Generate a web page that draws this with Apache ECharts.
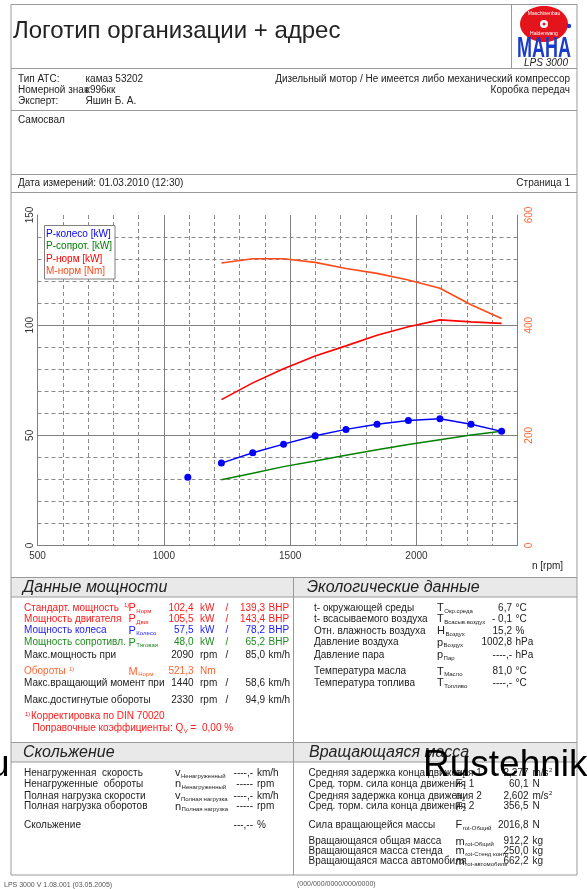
<!DOCTYPE html>
<html><head><meta charset="utf-8">
<script src="https://cdn.jsdelivr.net/npm/echarts@6/dist/echarts.min.js"></script>
<style>html,body{margin:0;padding:0;background:#fff}#c{width:587px;height:889px}</style>
</head><body><div id="c"></div>
<script>
// ---- chart data ----
const strayRpm = [1095];
const strayWheel = [31.0];
const rpm = [1228, 1352, 1474, 1599, 1721, 1844, 1968, 2093, 2216, 2337];
const pWheel = [37.4, 42.1, 46.0, 49.8, 52.7, 55.0, 56.7, 57.5, 55.0, 51.8];
const pDrag = [29.8, 32.8, 35.8, 38.4, 41.0, 43.5, 45.8, 48.0, 50.1, 51.8];
const pNorm = [66.2, 73.8, 80.2, 86.0, 90.6, 95.4, 99.3, 102.4, 101.5, 100.8];
const mNorm = [513, 520.5, 520.5, 514, 503, 494, 482, 467, 437, 412];
const xLabels = [500, 1000, 1500, 2000];
const seriesNames = ['P-колесо [kW]', 'P-сопрот. [kW]', 'P-норм [kW]', 'M-норм [Nm]'];
const seriesColors = ['#0000ff', '#008000', '#ff0000', '#ff4a1a'];

const FF = '"Liberation Sans", Arial, sans-serif';
const chart = echarts.init(document.getElementById('c'), null, {renderer: 'canvas'});

const ctx = document.createElement('canvas').getContext('2d');
function tw(t, size, style) { ctx.font = (style || '') + ' ' + size + 'px ' + FF; return ctx.measureText(t).width; }

const G = [];
function T(x, y, text, o) {
  o = o || {};
  G.push({type: 'text', x: x, y: y, z: o.z || 20, scaleX: o.scaleX || 1, rotation: o.rotation || 0,
    style: {text: text, fill: o.color || '#222', fontSize: o.size || 10, fontFamily: FF,
      fontStyle: o.italic ? 'italic' : 'normal', fontWeight: o.bold ? 'bold' : 'normal',
      align: o.align || 'left', verticalAlign: o.valign || 'middle'}});
}
function L(x1, y1, x2, y2, c, w) {
  G.push({type: 'line', z: 5, shape: {x1: x1, y1: y1, x2: x2, y2: y2}, style: {stroke: c || '#9a9a9a', lineWidth: w || 1}});
}
function R(x, y, w, h, fill, stroke, z) {
  G.push({type: 'rect', z: z || 4, shape: {x: x, y: y, width: w, height: h}, style: {fill: fill || 'none', stroke: stroke || 'none', lineWidth: 1}});
}
function SYM(x, y, main, sub, color, sup) {
  if (sup) { T(x - 4.5, y - 3, sup, {size: 6, color: color}); }
  T(x, y, main, {size: 11, color: color});
  if (sub) T(x + tw(main, 11) + 0.5, y + 3, sub, {size: 6, color: color});
}

// ---- frame ----
const LX = 11, RX = 577;
R(LX, 4.5, RX - LX, 870.5, 'none', '#9a9a9a', 6);
L(511.5, 4.5, 511.5, 68.5);
L(LX, 68.5, RX, 68.5);
L(LX, 110.5, RX, 110.5);
L(LX, 174.5, RX, 174.5);
L(LX, 192.5, RX, 192.5);
R(LX, 577.5, RX - LX, 19.5, '#e9e9e9', 'none', 3);
L(LX, 577.5, RX, 577.5);
L(LX, 597, RX, 597);
L(293.5, 577.5, 293.5, 875);
R(LX, 742.5, RX - LX, 19.5, '#e9e9e9', 'none', 3);
L(LX, 742.5, RX, 742.5);
L(LX, 762, RX, 762);

// ---- header ----
T(13, 31, 'Логотип организации + адрес', {size: 24});
G.push({type: 'ellipse', z: 8, shape: {cx: 544, cy: 24, rx: 24, ry: 18}, style: {fill: '#e3141b'}});
G.push({type: 'circle', z: 9, shape: {cx: 569, cy: 26, r: 2.2}, style: {fill: '#1a3cc8'}});
G.push({type: 'circle', z: 9, shape: {cx: 544, cy: 24, r: 4}, style: {fill: '#fff'}});
G.push({type: 'circle', z: 9, shape: {cx: 544, cy: 24, r: 1.5}, style: {fill: '#e3141b'}});
T(544, 14, 'Maschinenbau', {size: 5, color: '#fff', align: 'center', z: 21});
T(544, 34, 'Haldenwang', {size: 5, color: '#fff', align: 'center', z: 21});
T(544, 49, 'MAHA', {size: 30, bold: true, color: '#1a3cc8', align: 'center', scaleX: 0.6, z: 22});
T(546, 63, 'LPS 3000', {size: 10, italic: true, color: '#222', align: 'center'});

T(18, 79, 'Тип АТС:'); T(85.5, 79, 'камаз 53202');
T(18, 90.2, 'Номерной знак'); T(85.5, 90.2, 'к996кк');
T(18, 101.5, 'Эксперт:'); T(85.5, 101.5, 'Яшин Б. А.');
T(570, 79, 'Дизельный мотор / Не имеется либо механический компрессор', {align: 'right'});
T(570, 90.2, 'Коробка передач', {align: 'right'});
T(18, 120, 'Самосвал');
T(18, 183.3, 'Дата измерений: 01.03.2010 (12:30)');
T(570, 183.3, 'Страница 1', {align: 'right'});

// ---- chart extras ----
T(532, 566, 'n [rpm]', {size: 10});
R(44.5, 225.5, 70.5, 53.5, '#fff', '#808080', 3);

// ---- power data section ----
const RED = '#ff1a1a', BLUE = '#1a1aff', GREEN = '#1e8c1e', ORANGE = '#ff6633', DARK = '#222';
T(23, 587.5, 'Данные мощности', {size: 16, italic: true});
function prow(y, label, color, sym, sub, sup, v1, u1, v2, u2) {
  T(24, y, label, {color: color});
  if (sym) SYM(128.5, y, sym, sub, color, sup);
  T(193.5, y, v1, {color: color, align: 'right'});
  T(200, y, u1, {color: color});
  if (v2) {
    T(227, y, '/', {color: color, align: 'center'});
    T(265, y, v2, {color: color, align: 'right'});
    T(268.5, y, u2, {color: color});
  }
}
prow(608, 'Стандарт. мощность', RED, 'P', 'Норм', '1)', '102,4', 'kW', '139,3', 'BHP');
prow(619, 'Мощность двигателя', RED, 'P', 'Двиг', null, '105,5', 'kW', '143,4', 'BHP');
prow(630.5, 'Мощность колеса', BLUE, 'P', 'Колесо', null, '57,5', 'kW', '78,2', 'BHP');
prow(642.5, 'Мощность сопротивл.', GREEN, 'P', 'Тяговая', null, '48,0', 'kW', '65,2', 'BHP');
prow(655, 'Макс.мощность при', DARK, null, null, null, '2090', 'rpm', '85,0', 'km/h');
prow(671.7, 'Обороты', ORANGE, 'M', 'Норм', null, '521,3', 'Nm', null, null);
T(69, 669, '1)', {size: 6, color: ORANGE});
prow(683.3, 'Макс.вращающий момент при', DARK, null, null, null, '1440', 'rpm', '58,6', 'km/h');
prow(700, 'Макс.достигнутые обороты', DARK, null, null, null, '2330', 'rpm', '94,9', 'km/h');
T(25, 714, '1)', {size: 6, color: RED});
T(31, 716.7, 'Корректировка по DIN 70020', {color: RED});
const qText = 'Поправочные коэффициенты: Q';
const qEnd = 32.5 + tw(qText, 10);
T(32.5, 728.3, qText, {color: RED});
T(qEnd + 0.5, 731, 'V', {color: RED, size: 6});
T(qEnd + 7, 728.3, '=', {color: RED});
T(Math.max(202, qEnd + 18), 728.3, '0,00 %', {color: RED});

// ---- ecology section ----
T(307, 587.5, 'Экологические данные', {size: 16, italic: true});
function erow(y, label, sym, sub, val, unit) {
  T(314, y, label);
  SYM(437, y, sym, sub, DARK);
  T(512, y, val, {align: 'right'});
  T(515.5, y, unit);
}
erow(608.3, 't- окружающей среды', 'T', 'Окр.среда', '6,7', '°C');
erow(619.3, 't- всасываемого воздуха', 'T', 'Всасыв.воздух', '- 0,1', '°C');
erow(631, 'Отн. влажность воздуха', 'H', 'Воздух', '15,2', '%');
erow(642.7, 'Давление воздуха', 'p', 'Воздух', '1002,8', 'hPa');
erow(655, 'Давление пара', 'p', 'Пар', '----,-', 'hPa');
erow(671.7, 'Температура масла', 'T', 'Масло', '81,0', '°C');
erow(683.3, 'Температура топлива', 'T', 'Топливо', '----,-', '°C');

// ---- slip section ----
T(23, 752.5, 'Скольжение', {size: 16, italic: true});
function srow(y, label, sym, sub, val, unit) {
  T(24, y, label);
  if (sym) SYM(175, y, sym, sub, DARK);
  T(253, y, val, {align: 'right'});
  T(257, y, unit);
}
srow(773.3, 'Ненагруженная  скорость', 'v', 'Ненагруженный', '----,-', 'km/h');
srow(784.3, 'Ненагруженные  обороты', 'n', 'Ненагруженный', '-----', 'rpm');
srow(796, 'Полная нагрузка скорости', 'v', 'Полная нагрузка', '----,-', 'km/h');
srow(806.7, 'Полная нагрузка оборотов', 'n', 'Полная нагрузка', '-----', 'rpm');
srow(825, 'Скольжение', null, null, '---,--', '%');

// ---- rotating mass section ----
T(309, 752.5, 'Вращающаяся масса', {size: 16, italic: true});
function mrow(y, label, sym, sub, val, unit, sup) {
  T(308.5, y, label);
  SYM(455.5, y, sym, sub, DARK);
  T(528.5, y, val, {align: 'right'});
  T(532.5, y, unit);
  if (sup) T(532.5 + tw(unit, 10) + 0.5, y - 3, sup, {size: 6});
}
mrow(773.3, 'Средняя задержка конца движения 1', 'a', '1', '2,277', 'm/s', '2');
mrow(784.3, 'Сред. торм. сила конца движения 1', 'F', '1', '60,1', 'N');
mrow(796, 'Средняя задержка конца движения 2', 'a', '2', '2,602', 'm/s', '2');
mrow(806.7, 'Сред. торм. сила конца движения 2', 'F', '2', '356,5', 'N');
mrow(825, 'Сила вращающейся массы', 'F', 'rot-Общий', '2016,8', 'N');
mrow(841.7, 'Вращающаяся общая масса', 'm', 'rot-Общий', '912,2', 'kg');
mrow(851, 'Вращающаяся масса стенда', 'm', 'rot-Стенд контр', '250,0', 'kg');
mrow(861.7, 'Вращающаяся масса автомобиля', 'm', 'rot-автомобиль', '662,2', 'kg');

// ---- footer + watermark ----
T(4, 885, 'LPS 3000 V 1.08.001 (03.05.2005)', {size: 7, color: '#555'});
T(297, 884, '(000/000/0000/000/0000)', {size: 7, color: '#555'});
T(423, 766, 'Rustehnik', {size: 37, color: '#000', z: 40});
T(-11, 766, 'u', {size: 37, color: '#000', z: 40});

// ---- series data ----
const wheelData = strayRpm.map((r, i) => [r, strayWheel[i]]);
wheelData.push([strayRpm[strayRpm.length - 1], '-']);
rpm.forEach((r, i) => wheelData.push([r, pWheel[i]]));
const pair = arr => rpm.map((r, i) => [r, arr[i]]);

const option = {
  animation: false,
  backgroundColor: '#fff',
  textStyle: {fontFamily: FF},
  grid: {left: 37.5, right: 69.5, top: 215, bottom: 343.5, containLabel: false},
  legend: {
    orient: 'vertical', left: 41, top: 228, padding: 0, itemGap: 0.5, itemWidth: 0, itemHeight: 0,
    icon: 'none', selectedMode: false, z: 10,
    textStyle: {fontSize: 10, fontFamily: FF, lineHeight: 12},
    data: seriesNames.map((n, i) => ({name: n, icon: 'none', textStyle: {color: seriesColors[i]}}))
  },
  xAxis: [
    {type: 'value', min: 500, max: 2400, interval: 100,
     axisLine: {show: true, lineStyle: {color: '#808080', width: 1}}, axisTick: {show: false},
     axisLabel: {color: '#333', fontSize: 10, margin: 6,
       formatter: v => xLabels.indexOf(v) >= 0 ? String(v) : ''},
     splitLine: {show: true, lineStyle: {color: '#8a8a8a', type: [4, 3], width: 1}}},
    {type: 'value', min: 500, max: 2400, interval: 500, position: 'bottom',
     axisLine: {show: false}, axisTick: {show: false}, axisLabel: {show: false},
     splitLine: {show: true, lineStyle: {color: '#808080', width: 1}}}
  ],
  yAxis: [
    {type: 'value', min: 0, max: 150, interval: 50, position: 'left',
     axisLine: {show: true, lineStyle: {color: '#808080'}}, axisTick: {show: false},
     axisLabel: {rotate: 90, color: '#333', fontSize: 10, margin: 2},
     splitLine: {show: true, showMaxLine: false, lineStyle: {color: '#808080', width: 1}},
     minorTick: {show: false, splitNumber: 5},
     minorSplitLine: {show: true, lineStyle: {color: '#8a8a8a', type: [4, 3], width: 1}}},
    {type: 'value', min: 0, max: 600, interval: 200, position: 'right',
     axisLine: {show: true, lineStyle: {color: '#808080'}}, axisTick: {show: false},
     axisLabel: {rotate: 90, color: '#ff6633', fontSize: 10, margin: 7},
     splitLine: {show: false}}
  ],
  series: [
    {name: seriesNames[1], type: 'line', xAxisIndex: 0, yAxisIndex: 0, data: pair(pDrag),
     showSymbol: false, symbol: 'none', lineStyle: {color: seriesColors[1], width: 1.5}, itemStyle: {color: seriesColors[1]}, z: 3},
    {name: seriesNames[2], type: 'line', xAxisIndex: 0, yAxisIndex: 0, data: pair(pNorm),
     showSymbol: false, symbol: 'none', lineStyle: {color: seriesColors[2], width: 1.6}, itemStyle: {color: seriesColors[2]}, z: 3},
    {name: seriesNames[3], type: 'line', xAxisIndex: 0, yAxisIndex: 1, data: pair(mNorm),
     showSymbol: false, symbol: 'none', lineStyle: {color: seriesColors[3], width: 1.6}, itemStyle: {color: seriesColors[3]}, z: 3},
    {name: seriesNames[0], type: 'line', xAxisIndex: 0, yAxisIndex: 0, data: wheelData, connectNulls: false,
     symbol: 'circle', symbolSize: 7, showSymbol: true,
     lineStyle: {color: seriesColors[0], width: 1.5}, itemStyle: {color: seriesColors[0]}, z: 4}
  ],
  graphic: {elements: G}
};
chart.setOption(option);
</script>
</body></html>
